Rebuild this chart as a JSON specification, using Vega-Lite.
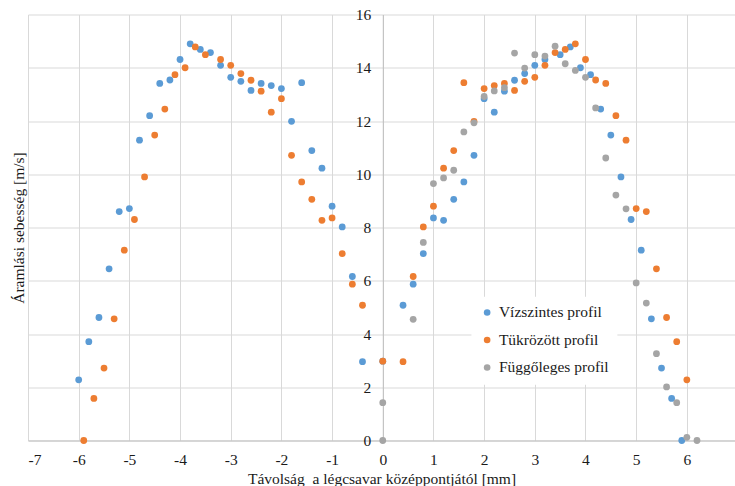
{
  "$schema": "https://vega.github.io/schema/vega-lite/v6.json",
  "autosize": "none",
  "width": 707,
  "height": 426,
  "padding": {"left": 28, "top": 14.5, "right": 0, "bottom": 45.5},
  "background": "white",
  "config": {
    "view": {"stroke": null},
    "font": "Liberation Serif",
    "axis": {"labelFont": "Liberation Serif", "titleFont": "Liberation Serif", "labelFontSize": 15.5, "titleFontSize": 15.5, "labelColor": "#1a1a1a", "titleColor": "#1a1a1a", "titleFontWeight": "normal", "gridColor": "#D9D9D9", "gridWidth": 1, "domainColor": "#BFBFBF", "ticks": false}
  },
  "data": {"values": [
    {"series": "Vízszintes profil", "x": -6.0, "y": 2.28},
    {"series": "Vízszintes profil", "x": -5.8, "y": 3.71},
    {"series": "Vízszintes profil", "x": -5.6, "y": 4.62},
    {"series": "Vízszintes profil", "x": -5.4, "y": 6.45},
    {"series": "Vízszintes profil", "x": -5.2, "y": 8.60},
    {"series": "Vízszintes profil", "x": -5.0, "y": 8.71},
    {"series": "Vízszintes profil", "x": -4.8, "y": 11.28},
    {"series": "Vízszintes profil", "x": -4.6, "y": 12.20},
    {"series": "Vízszintes profil", "x": -4.4, "y": 13.41},
    {"series": "Vízszintes profil", "x": -4.2, "y": 13.54},
    {"series": "Vízszintes profil", "x": -4.0, "y": 14.31},
    {"series": "Vízszintes profil", "x": -3.8, "y": 14.90},
    {"series": "Vízszintes profil", "x": -3.6, "y": 14.69},
    {"series": "Vízszintes profil", "x": -3.4, "y": 14.57},
    {"series": "Vízszintes profil", "x": -3.2, "y": 14.09},
    {"series": "Vízszintes profil", "x": -3.0, "y": 13.64},
    {"series": "Vízszintes profil", "x": -2.8, "y": 13.49},
    {"series": "Vízszintes profil", "x": -2.6, "y": 13.15},
    {"series": "Vízszintes profil", "x": -2.4, "y": 13.41},
    {"series": "Vízszintes profil", "x": -2.2, "y": 13.33},
    {"series": "Vízszintes profil", "x": -2.0, "y": 13.22},
    {"series": "Vízszintes profil", "x": -1.8, "y": 11.99},
    {"series": "Vízszintes profil", "x": -1.6, "y": 13.44},
    {"series": "Vízszintes profil", "x": -1.4, "y": 10.89},
    {"series": "Vízszintes profil", "x": -1.2, "y": 10.23},
    {"series": "Vízszintes profil", "x": -1.0, "y": 8.80},
    {"series": "Vízszintes profil", "x": -0.8, "y": 8.02},
    {"series": "Vízszintes profil", "x": -0.6, "y": 6.16},
    {"series": "Vízszintes profil", "x": -0.4, "y": 2.96},
    {"series": "Vízszintes profil", "x": 0.0, "y": 2.98},
    {"series": "Vízszintes profil", "x": 0.4, "y": 5.08},
    {"series": "Vízszintes profil", "x": 0.6, "y": 5.87},
    {"series": "Vízszintes profil", "x": 0.8, "y": 7.02},
    {"series": "Vízszintes profil", "x": 1.0, "y": 8.36},
    {"series": "Vízszintes profil", "x": 1.2, "y": 8.27},
    {"series": "Vízszintes profil", "x": 1.4, "y": 9.06},
    {"series": "Vízszintes profil", "x": 1.6, "y": 9.71},
    {"series": "Vízszintes profil", "x": 1.8, "y": 10.71},
    {"series": "Vízszintes profil", "x": 2.0, "y": 12.84},
    {"series": "Vízszintes profil", "x": 2.2, "y": 12.33},
    {"series": "Vízszintes profil", "x": 2.4, "y": 13.12},
    {"series": "Vízszintes profil", "x": 2.6, "y": 13.53},
    {"series": "Vízszintes profil", "x": 2.8, "y": 13.78},
    {"series": "Vízszintes profil", "x": 3.0, "y": 14.09},
    {"series": "Vízszintes profil", "x": 3.2, "y": 14.31},
    {"series": "Vízszintes profil", "x": 3.5, "y": 14.49},
    {"series": "Vízszintes profil", "x": 3.7, "y": 14.78},
    {"series": "Vízszintes profil", "x": 3.9, "y": 14.00},
    {"series": "Vízszintes profil", "x": 4.1, "y": 13.74},
    {"series": "Vízszintes profil", "x": 4.3, "y": 12.45},
    {"series": "Vízszintes profil", "x": 4.5, "y": 11.47},
    {"series": "Vízszintes profil", "x": 4.7, "y": 9.90},
    {"series": "Vízszintes profil", "x": 4.9, "y": 8.30},
    {"series": "Vízszintes profil", "x": 5.1, "y": 7.15},
    {"series": "Vízszintes profil", "x": 5.3, "y": 4.57},
    {"series": "Vízszintes profil", "x": 5.5, "y": 2.72},
    {"series": "Vízszintes profil", "x": 5.7, "y": 1.58},
    {"series": "Vízszintes profil", "x": 5.9, "y": 0.0},
    {"series": "Tükrözött profil", "x": 6.0, "y": 2.28},
    {"series": "Tükrözött profil", "x": 5.8, "y": 3.71},
    {"series": "Tükrözött profil", "x": 5.6, "y": 4.62},
    {"series": "Tükrözött profil", "x": 5.4, "y": 6.45},
    {"series": "Tükrözött profil", "x": 5.2, "y": 8.60},
    {"series": "Tükrözött profil", "x": 5.0, "y": 8.71},
    {"series": "Tükrözött profil", "x": 4.8, "y": 11.28},
    {"series": "Tükrözött profil", "x": 4.6, "y": 12.20},
    {"series": "Tükrözött profil", "x": 4.4, "y": 13.41},
    {"series": "Tükrözött profil", "x": 4.2, "y": 13.54},
    {"series": "Tükrözött profil", "x": 4.0, "y": 14.31},
    {"series": "Tükrözött profil", "x": 3.8, "y": 14.90},
    {"series": "Tükrözött profil", "x": 3.6, "y": 14.69},
    {"series": "Tükrözött profil", "x": 3.4, "y": 14.57},
    {"series": "Tükrözött profil", "x": 3.2, "y": 14.09},
    {"series": "Tükrözött profil", "x": 3.0, "y": 13.64},
    {"series": "Tükrözött profil", "x": 2.8, "y": 13.49},
    {"series": "Tükrözött profil", "x": 2.6, "y": 13.15},
    {"series": "Tükrözött profil", "x": 2.4, "y": 13.41},
    {"series": "Tükrözött profil", "x": 2.2, "y": 13.33},
    {"series": "Tükrözött profil", "x": 2.0, "y": 13.22},
    {"series": "Tükrözött profil", "x": 1.8, "y": 11.99},
    {"series": "Tükrözött profil", "x": 1.6, "y": 13.44},
    {"series": "Tükrözött profil", "x": 1.4, "y": 10.89},
    {"series": "Tükrözött profil", "x": 1.2, "y": 10.23},
    {"series": "Tükrözött profil", "x": 1.0, "y": 8.80},
    {"series": "Tükrözött profil", "x": 0.8, "y": 8.02},
    {"series": "Tükrözött profil", "x": 0.6, "y": 6.16},
    {"series": "Tükrözött profil", "x": 0.4, "y": 2.96},
    {"series": "Tükrözött profil", "x": 0.0, "y": 2.98},
    {"series": "Tükrözött profil", "x": -0.4, "y": 5.08},
    {"series": "Tükrözött profil", "x": -0.6, "y": 5.87},
    {"series": "Tükrözött profil", "x": -0.8, "y": 7.02},
    {"series": "Tükrözött profil", "x": -1.0, "y": 8.36},
    {"series": "Tükrözött profil", "x": -1.2, "y": 8.27},
    {"series": "Tükrözött profil", "x": -1.4, "y": 9.06},
    {"series": "Tükrözött profil", "x": -1.6, "y": 9.71},
    {"series": "Tükrözött profil", "x": -1.8, "y": 10.71},
    {"series": "Tükrözött profil", "x": -2.0, "y": 12.84},
    {"series": "Tükrözött profil", "x": -2.2, "y": 12.33},
    {"series": "Tükrözött profil", "x": -2.4, "y": 13.12},
    {"series": "Tükrözött profil", "x": -2.6, "y": 13.53},
    {"series": "Tükrözött profil", "x": -2.8, "y": 13.78},
    {"series": "Tükrözött profil", "x": -3.0, "y": 14.09},
    {"series": "Tükrözött profil", "x": -3.2, "y": 14.31},
    {"series": "Tükrözött profil", "x": -3.5, "y": 14.49},
    {"series": "Tükrözött profil", "x": -3.7, "y": 14.78},
    {"series": "Tükrözött profil", "x": -3.9, "y": 14.00},
    {"series": "Tükrözött profil", "x": -4.1, "y": 13.74},
    {"series": "Tükrözött profil", "x": -4.3, "y": 12.45},
    {"series": "Tükrözött profil", "x": -4.5, "y": 11.47},
    {"series": "Tükrözött profil", "x": -4.7, "y": 9.90},
    {"series": "Tükrözött profil", "x": -4.9, "y": 8.30},
    {"series": "Tükrözött profil", "x": -5.1, "y": 7.15},
    {"series": "Tükrözött profil", "x": -5.3, "y": 4.57},
    {"series": "Tükrözött profil", "x": -5.5, "y": 2.72},
    {"series": "Tükrözött profil", "x": -5.7, "y": 1.58},
    {"series": "Tükrözött profil", "x": -5.9, "y": 0.0},
    {"series": "Függőleges profil", "x": 0.0, "y": 0.0},
    {"series": "Függőleges profil", "x": 0.0, "y": 1.42},
    {"series": "Függőleges profil", "x": 0.6, "y": 4.55},
    {"series": "Függőleges profil", "x": 0.8, "y": 7.44},
    {"series": "Függőleges profil", "x": 1.0, "y": 9.65},
    {"series": "Függőleges profil", "x": 1.2, "y": 9.86},
    {"series": "Függőleges profil", "x": 1.4, "y": 10.15},
    {"series": "Függőleges profil", "x": 1.6, "y": 11.59},
    {"series": "Függőleges profil", "x": 1.8, "y": 11.93},
    {"series": "Függőleges profil", "x": 2.0, "y": 12.92},
    {"series": "Függőleges profil", "x": 2.2, "y": 13.13},
    {"series": "Függőleges profil", "x": 2.4, "y": 13.25},
    {"series": "Függőleges profil", "x": 2.6, "y": 14.55},
    {"series": "Függőleges profil", "x": 2.8, "y": 13.99},
    {"series": "Függőleges profil", "x": 3.0, "y": 14.49},
    {"series": "Függőleges profil", "x": 3.2, "y": 14.44},
    {"series": "Függőleges profil", "x": 3.4, "y": 14.81},
    {"series": "Függőleges profil", "x": 3.6, "y": 14.15},
    {"series": "Függőleges profil", "x": 3.8, "y": 13.90},
    {"series": "Függőleges profil", "x": 4.0, "y": 13.64},
    {"series": "Függőleges profil", "x": 4.2, "y": 12.49},
    {"series": "Függőleges profil", "x": 4.4, "y": 10.61},
    {"series": "Függőleges profil", "x": 4.6, "y": 9.22},
    {"series": "Függőleges profil", "x": 4.8, "y": 8.70},
    {"series": "Függőleges profil", "x": 5.0, "y": 5.92},
    {"series": "Függőleges profil", "x": 5.2, "y": 5.16},
    {"series": "Függőleges profil", "x": 5.4, "y": 3.26},
    {"series": "Függőleges profil", "x": 5.6, "y": 2.01},
    {"series": "Függőleges profil", "x": 5.8, "y": 1.42},
    {"series": "Függőleges profil", "x": 6.0, "y": 0.12},
    {"series": "Függőleges profil", "x": 6.2, "y": 0.0}
  ]},
  "mark": {"type": "point", "filled": true, "opacity": 1, "size": 46},
  "encoding": {
    "x": {
      "field": "x", "type": "quantitative",
      "scale": {"domain": [-7, 6.95], "nice": false, "zero": false},
      "axis": {
        "values": [-7, -6, -5, -4, -3, -2, -1, 0, 1, 2, 3, 4, 5, 6, 7],
        "labelExpr": "'' + datum.value",
        "grid": true, "domain": true, "labelPadding": 12,
        "title": "Távolság\u00a0 a légcsavar középpontjától [mm]", "titlePadding": 3
      }
    },
    "y": {
      "field": "y", "type": "quantitative",
      "scale": {"domain": [0, 16], "nice": false},
      "axis": {
        "values": [0, 2, 4, 6, 8, 10, 12, 14, 16],
        "grid": true, "domain": true, "offset": -354.8, "labelPadding": 12,
        "title": "Áramlási sebesség [m/s]", "titleX": -356.4, "titleY": 213
      }
    },
    "color": {
      "field": "series", "type": "nominal",
      "scale": {"domain": ["Vízszintes profil", "Tükrözött profil", "Függőleges profil"], "range": ["#5B9BD5", "#ED7D31", "#A5A5A5"]},
      "legend": {
        "title": null, "orient": "none", "legendX": 443.4, "legendY": 282.2,
        "padding": 8, "fillColor": "white", "symbolType": "circle", "symbolSize": 44,
        "labelFont": "Liberation Serif", "labelFontSize": 15.5, "labelColor": "#1a1a1a",
        "rowPadding": 10.5, "labelOffset": 4
      }
    }
  }
}
